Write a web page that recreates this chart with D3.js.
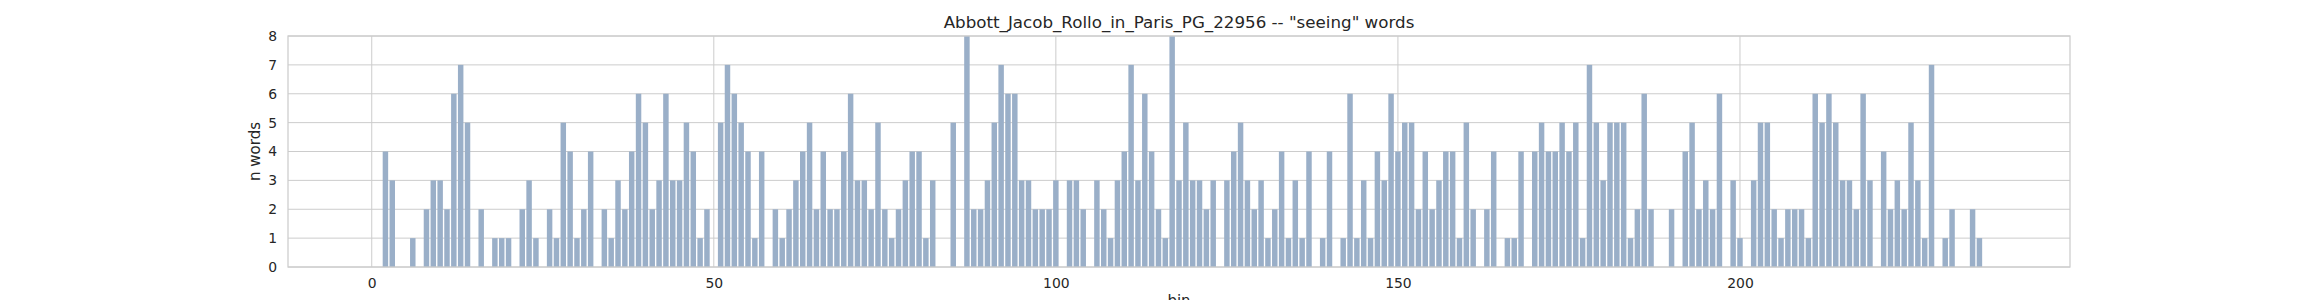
<!DOCTYPE html>
<html>
<head>
<meta charset="utf-8">
<script src="https://cdn.jsdelivr.net/npm/d3@7"></script>
<style>
  body { margin: 0; background: #fff; }
  text { font-family: "DejaVu Sans", sans-serif; fill: #262626; }
</style>
</head>
<body>
<div class="chart"></div>
<script>
// Chart text
let titleText = 'Abbott_Jacob_Rollo_in_Paris_PG_22956 -- "seeing" words';
let xLabel = "bin";
let yLabel = "n words";

// x tick labels / y tick labels
let xTicks = [0, 50, 100, 150, 200];
let yTicks = [0, 1, 2, 3, 4, 5, 6, 7, 8];

// n words per bin, bins 0..236
let counts = [
  0, 0, 4, 3, 0, 0, 1, 0, 2, 3,   // 0-9
  3, 2, 6, 7, 5, 0, 2, 0, 1, 1,   // 10-19
  1, 0, 2, 3, 1, 0, 2, 1, 5, 4,   // 20-29
  1, 2, 4, 0, 2, 1, 3, 2, 4, 6,   // 30-39
  5, 2, 3, 6, 3, 3, 5, 4, 1, 2,   // 40-49
  0, 5, 7, 6, 5, 4, 1, 4, 0, 2,   // 50-59
  1, 2, 3, 4, 5, 2, 4, 2, 2, 4,   // 60-69
  6, 3, 3, 2, 5, 2, 1, 2, 3, 4,   // 70-79
  4, 1, 3, 0, 0, 5, 0, 8, 2, 2,   // 80-89
  3, 5, 7, 6, 6, 3, 3, 2, 2, 2,   // 90-99
  3, 0, 3, 3, 2, 0, 3, 2, 1, 3,   // 100-109
  4, 7, 3, 6, 4, 2, 1, 8, 3, 5,   // 110-119
  3, 3, 2, 3, 0, 3, 4, 5, 3, 2,   // 120-129
  3, 1, 2, 4, 1, 3, 1, 4, 0, 1,   // 130-139
  4, 0, 1, 6, 1, 3, 1, 4, 3, 6,   // 140-149
  4, 5, 5, 2, 4, 2, 3, 4, 4, 1,   // 150-159
  5, 2, 0, 2, 4, 0, 1, 1, 4, 0,   // 160-169
  4, 5, 4, 4, 5, 4, 5, 1, 7, 5,   // 170-179
  3, 5, 5, 5, 1, 2, 6, 2, 0, 0,   // 180-189
  2, 0, 4, 5, 2, 3, 2, 6, 0, 3,   // 190-199
  1, 0, 3, 5, 5, 2, 1, 2, 2, 2,   // 200-209
  1, 6, 5, 6, 5, 3, 3, 2, 6, 3,   // 210-219
  0, 4, 2, 3, 2, 5, 3, 1, 7, 0,   // 220-229
  1, 2, 0, 0, 2, 1, 0             // 230-236
];
let bins = counts.map((d, i) => i);

let w = 2300;
let h = 300;
let margin = { top: 36, right: 230, bottom: 33, left: 288 };
let barWidth = 0.8;

let svg = d3.select(".chart")
            .append("svg")
            .attr("width", w)
            .attr("height", h);

// matplotlib-like 5% padding round the bar extent
let lo = d3.min(bins) - barWidth / 2;
let hi = d3.max(bins) + barWidth / 2;
let pad = (hi - lo) * 0.05;

let x = d3.scaleLinear()
  .domain([lo - pad, hi + pad])
  .range([margin.left, w - margin.right]);

let y = d3.scaleLinear()
  .domain([0, 8])
  .range([h - margin.bottom, margin.top]);

// grid
svg.append("g")
  .selectAll("line.hgrid")
  .data(yTicks)
  .enter()
  .append("line")
  .attr("x1", x.range()[0])
  .attr("x2", x.range()[1])
  .attr("y1", d => y(d))
  .attr("y2", d => y(d))
  .attr("stroke", "#cccccc")
  .attr("stroke-width", 1);

svg.append("g")
  .selectAll("line.vgrid")
  .data(xTicks)
  .enter()
  .append("line")
  .attr("x1", d => x(d))
  .attr("x2", d => x(d))
  .attr("y1", y.range()[0])
  .attr("y2", y.range()[1])
  .attr("stroke", "#cccccc")
  .attr("stroke-width", 1);

// bars
svg.append("g")
  .selectAll("rect")
  .data(counts)
  .enter()
  .append("rect")
  .attr("x", (d, i) => x(bins[i] - barWidth / 2))
  .attr("width", x(barWidth) - x(0))
  .attr("y", d => y(d))
  .attr("height", d => y(0) - y(d))
  .attr("fill", "#9aafc8");

// frame
svg.append("rect")
  .attr("x", x.range()[0])
  .attr("y", y.range()[1])
  .attr("width", x.range()[1] - x.range()[0])
  .attr("height", y.range()[0] - y.range()[1])
  .attr("fill", "none")
  .attr("stroke", "#cccccc")
  .attr("stroke-width", 1.25);

// axes
let xAxis = svg.append("g")
  .attr("transform", "translate(0," + y(0) + ")")
  .call(d3.axisBottom(x).tickValues(xTicks).tickSize(0).tickPadding(11));
xAxis.select(".domain").remove();

let yAxis = svg.append("g")
  .attr("transform", "translate(" + x.range()[0] + ",0)")
  .call(d3.axisLeft(y).tickValues(yTicks).tickSize(0).tickPadding(11));
yAxis.select(".domain").remove();

svg.selectAll(".tick text")
  .attr("font-family", "DejaVu Sans")
  .attr("font-size", 13.9)
  .attr("fill", "#262626");

// labels
let cx = (x.range()[0] + x.range()[1]) / 2;

svg.append("text")
  .attr("x", cx)
  .attr("y", 28)
  .attr("text-anchor", "middle")
  .attr("font-size", 16.7)
  .text(titleText);

svg.append("text")
  .attr("x", cx)
  .attr("y", 306)
  .attr("text-anchor", "middle")
  .attr("font-size", 15)
  .text(xLabel);

svg.append("text")
  .attr("transform", "translate(260," + ((y.range()[0] + y.range()[1]) / 2) + ") rotate(-90)")
  .attr("text-anchor", "middle")
  .attr("font-size", 15)
  .text(yLabel);
</script>
</body>
</html>
